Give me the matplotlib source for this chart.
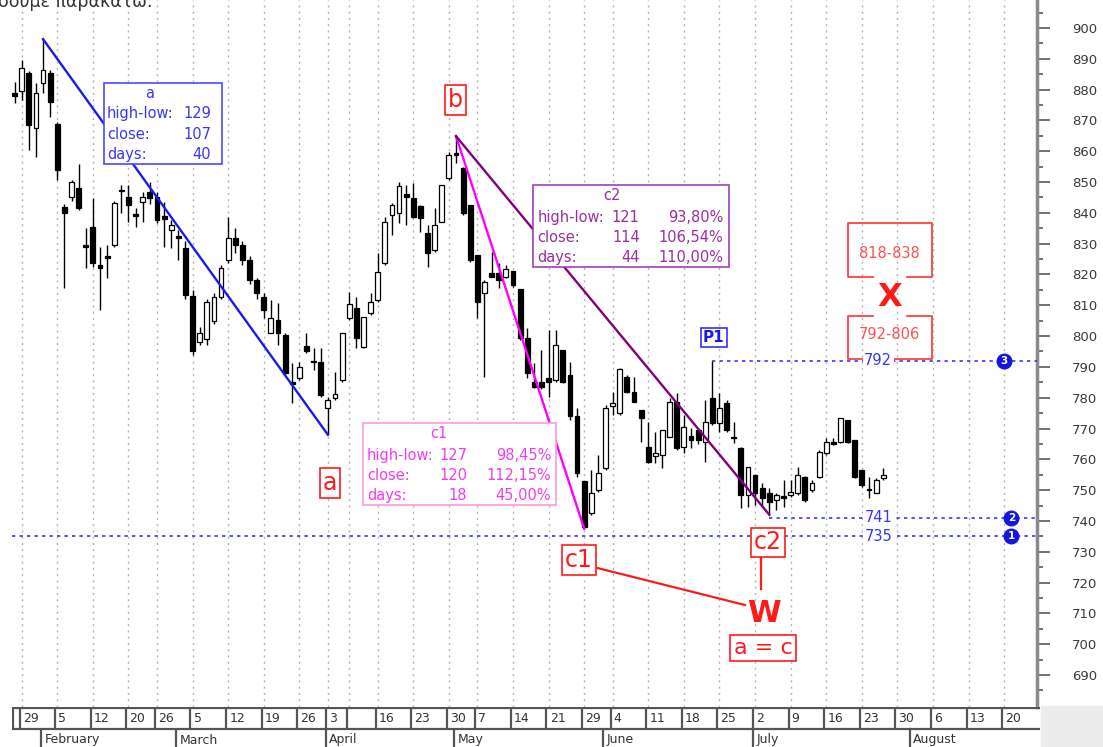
import matplotlib.pyplot as plt
from matplotlib.patches import Rectangle
import numpy as np

plt.rcParams['font.family'] = ['DejaVu Sans']

# daily candles, first one is the Friday before 29 Jan
opens = [879, 879.6, 885.4, 867.5, 882, 885.4, 869, 842, 845, 848,
         829.5, 835.4, 823, 826, 829.6, 847.5, 845, 839.5, 843.5, 846.8,
         845, 839, 834.4, 832.5, 828.6, 813, 798, 799, 805, 812.7,
         824.7, 831.8, 829.6, 824.7, 818.2, 812.7, 801, 805.2, 800.4, 784.9,
         786.3, 796.8, 791.9, 791.7, 776.5, 779.8, 785.7, 805.8, 809, 796.6,
         807.4, 811.7, 823.6, 839.3, 839.8, 846.1, 844.7, 842.2, 833.4, 828,
         837.1, 851.2, 859.5, 854.5, 842.5, 826.3, 813.9, 820.4, 820.4, 819.3,
         821.2, 815.2, 799.3, 785.2, 785.2, 786.3, 785.7, 795.5, 787.4, 773.9,
         752.8, 742.5, 750.1, 757.1, 777.3, 775, 786.8, 782, 776, 764.1,
         761.1, 761.4, 767.4, 778.7, 764.1, 767.6, 769.5, 765.7, 779.8, 771.7,
         778.2, 767.4, 763.6, 748.4, 754.9, 750.6, 749, 746.8, 747.9, 748.4,
         749, 754.4, 750.1, 754.4, 761.9, 765.4, 765.7, 772.8, 766.3, 756.5,
         750.3, 749, 753.8]
highs = [882.5, 889.6, 886, 882, 896.4, 886.4, 869.5, 843, 850.7, 856,
         835, 844.8, 829, 829.6, 844, 849, 849, 841.6, 846.8, 850,
         846.8, 843.5, 837.7, 834.4, 831, 815, 803, 812, 814, 823,
         838.7, 835, 831, 826, 819, 814, 811.7, 810.6, 800.9, 791.2,
         791.7, 800.9, 796, 796, 780.3, 788.5, 801.1, 814.4, 812.8, 806.3,
         813.9, 826.9, 838.8, 843.1, 850.1, 849, 849.6, 842.5, 836.1, 841.5,
         849, 859.9, 864.9, 855, 842.5, 826.3, 818.2, 827.4, 823.6, 823.1,
         821.2, 815.2, 802.5, 791.2, 795.5, 802, 802, 795.5, 791.7, 776.6,
         752.8, 756.6, 761.4, 777.6, 782, 789.5, 787.4, 786.8, 776, 772.2,
         769, 769.5, 779.8, 781.4, 774.4, 770.1, 770, 779.3, 792, 781.4,
         779.3, 772.2, 764.1, 757.6, 754.9, 752.2, 750.6, 749, 753.3, 753.3,
         757.6, 754.6, 753.3, 763, 766.8, 766.8, 773.3, 772.8, 766.3, 756.5,
         754.4, 753.8, 757.1]
lows = [875.7, 876.6, 860.4, 858.2, 879, 871, 850.7, 815.6, 844, 841,
        822, 822.4, 808.5, 818.9, 829, 840, 837, 835.4, 837, 843,
        836.7, 829, 828.6, 824.7, 812, 794, 797, 797, 804, 812,
        823.7, 827, 823, 817, 812, 806, 800.9, 797.1, 787.4, 778.2,
        785.7, 794.4, 789, 780.3, 768, 779.2, 785.2, 805.2, 796, 796,
        806.9, 811.2, 823.1, 832.8, 836.6, 836, 838.2, 833.9, 822.5, 827.4,
        837.1, 850.7, 856.1, 839.3, 824.2, 805.8, 786.8, 819.3, 815.5, 818.7,
        816, 798.7, 786.3, 783.1, 782.8, 780.3, 785.2, 784.7, 772.8, 754.4,
        737.5, 742, 749.5, 756.6, 774.4, 774.4, 781.4, 778.7, 765.7, 758.7,
        758.7, 757.1, 767.4, 763, 761.9, 763.6, 765, 759.2, 771, 769,
        769, 765.2, 744.1, 744.6, 745.2, 744.6, 742, 743.6, 744.6, 747.9,
        748.4, 746.2, 749.5, 753.8, 761.4, 764.6, 765.2, 765.2, 753.8, 751.1,
        747.3, 749, 753.3]
closes = [878, 887, 868.5, 878.9, 886.4, 876, 854, 840, 850, 841.6,
          829, 823.7, 822, 825.5, 843.2, 847, 842.5, 839, 845, 844.8,
          837.7, 838, 836, 832, 813.3, 795, 801, 811, 812.7, 822,
          831.8, 829.6, 824.7, 818.2, 814, 808.5, 805.8, 800.9, 787.9, 784.5,
          790.1, 795, 791.5, 780.9, 779.2, 781.1, 800.9, 810.4, 799.3, 806.3,
          811.2, 820.9, 837.1, 842.5, 848.7, 845.3, 838.8, 838.2, 826.9, 836.1,
          849, 858.8, 858.8, 839.8, 824.7, 811.2, 817.7, 819.3, 818.2, 821.7,
          816.6, 799.3, 787.9, 783.6, 783.5, 785.2, 797.1, 785.2, 773.9, 755.5,
          738.1, 749, 755.5, 776.6, 778.2, 789.2, 782, 778.7, 773.3, 759.2,
          762, 769.5, 778.7, 763.6, 770.6, 766.3, 766.3, 772.2, 771.7, 776.6,
          769.5, 766.8, 748.4, 757.6, 749, 747.3, 746.2, 748.4, 747.5, 749.5,
          754.9, 746.8, 752.2, 762.5, 765.7, 765, 773.3, 765.7, 754.4, 751.7,
          749.9, 753.3, 754.9]
days = np.arange(len(opens)) - 1

week_labels = ['29', '5', '12', '20', '26', '5', '12', '19', '26', '3', '', '16', '23', '30', '7',
               '14', '21', '29', '4', '11', '18', '25', '2', '9', '16', '23', '30', '6', '13', '20']
week_starts = [0, 5, 10, 15, 19, 24, 29, 34, 39, 43, 46, 50, 55, 60, 64,
               69, 74, 79, 83, 88, 93, 98, 103, 108, 113, 118, 123, 128, 133, 138]
month_labels = ['February', 'March', 'April', 'May', 'June', 'July', 'August']
month_starts = [3, 22, 43, 61, 82, 103, 125]

# wave points (day index)
a_top, a_bottom = 3, 43
b_top, c1_bottom, c2_bottom = 61, 79, 105
p1_day = 97

levels = [792, 741, 735]
level_nums = ['3', '2', '1']
level_from = [p1_day, c2_bottom, None]

a_rows = [('high-low:', '129'), ('close:', '107'), ('days:', '40')]
c1_rows = [('high-low:', '127', '98,45%'), ('close:', '120', '112,15%'), ('days:', '18', '45,00%')]
c2_rows = [('high-low:', '121', '93,80%'), ('close:', '114', '106,54%'), ('days:', '44', '110,00%')]
x_zone = '818-838'
p1_zone = '792-806'


def at(arr, d):
    return arr[d - days[0]]


W, H = 1103, 747
fig = plt.figure(figsize=(W / 100, H / 100), dpi=100)
ax = fig.add_axes([12 / W, 1 - 707 / H, (1037 - 12) / W, 707 / H])
x_min, x_max = -1.36, 142.6
ax.set_xlim(x_min, x_max)
ax.set_ylim(679.6, 909.1)

for s in week_starts:
    ax.axvline(s, color='#b4b4b4', lw=1, ls=(0, (1.5, 3)), zorder=0)

# candles
o = np.array(opens); c = np.array(closes)
up = c >= o
ax.vlines(days, lows, highs, color='black', lw=1, zorder=3)
body = np.maximum(np.abs(c - o), 0.5)
ax.bar(days, body, bottom=np.minimum(o, c), width=0.68,
       color=['white' if u else 'black' for u in up], edgecolor='black', lw=0.9, zorder=4)

# wave lines
ax.plot([a_top, a_bottom], [at(highs, a_top), at(lows, a_bottom)], color='#1a1af0', lw=1.7, zorder=5)
ax.plot([b_top, c1_bottom], [at(highs, b_top), at(lows, c1_bottom)], color='#ff00ff', lw=1.7, zorder=5)
ax.plot([b_top, c2_bottom], [at(highs, b_top), at(lows, c2_bottom)], color='#800080', lw=1.7, zorder=5)

# dotted levels
blue = '#3535ff'
for lv, num, start in zip(levels, level_nums, level_from):
    x0 = x_min if start is None else start
    ax.hlines(lv, x0, x_max, color=blue, lw=1.2, ls=(0, (2, 2.5)), zorder=5)
    ax.text(120.3, lv, str(lv), color=blue, fontsize=10.5, ha='center', va='center', zorder=7,
            bbox=dict(fc='white', ec='none', pad=1))
    cx = 137.9 if num == '3' else 139
    ax.scatter([cx], [lv], s=110, color='#1515e0', zorder=8)
    ax.text(cx, lv, num, color='white', fontsize=7.5, fontweight='bold', ha='center', va='center', zorder=9)


def stat_box(x0, x1, ytop, ybot, title, tx, rows, ys, cols, color, edge):
    ax.add_patch(Rectangle((x0, ybot), x1 - x0, ytop - ybot, fc='white', ec=edge, lw=1.2, zorder=6))
    ax.text(tx, ytop - (ytop - ybot) * 0.125, title, color=color, fontsize=10.5, ha='center', va='center', zorder=7)
    for row, y in zip(rows, ys):
        ax.text(cols[0], y, row[0], color=color, fontsize=10.5, ha='left', va='center', zorder=7)
        for val, cx in zip(row[1:], cols[1:]):
            ax.text(cx, y, val, color=color, fontsize=10.5, ha='right', va='center', zorder=7)


stat_box(11.6, 28.1, 882.2, 855.8, 'a', 17.9, a_rows, [872.1, 865.5, 859.1], [12.0, 26.6], '#3838f0', '#4a4aff')
stat_box(71.8, 99.3, 849.0, 822.5, 'c2', 82.9, c2_rows, [838.4, 831.9, 825.4], [72.4, 86.8, 98.5], '#9a2ea0', '#a040b0')
stat_box(47.9, 75.1, 771.7, 745.2, 'c1', 58.6, c1_rows, [761.2, 754.7, 748.1], [48.5, 62.6, 74.4], '#f03cf0', '#ff9ad8')

# red wave labels
red = '#ff1a1a'
rbox = dict(fc='white', ec=red, lw=1.2, boxstyle='square,pad=0.12')
for x, y, t in [(43.3, 752.3, 'a'), (60.9, 876.6, 'b'), (78.3, 727.3, 'c1'), (104.8, 733.0, 'c2')]:
    ax.text(x, y, t, color=red, fontsize=17, ha='center', va='center', zorder=7, bbox=rbox)
ax.plot([80.9, 101.6], [724.7, 712.7], color=red, lw=1.6, zorder=6)
ax.plot([103.8, 103.8], [728.3, 717.9], color=red, lw=1.6, zorder=6)
ax.text(104.2, 710.0, 'W', color=red, fontsize=22, fontweight='bold', ha='center', va='center', zorder=7)
ax.text(104.1, 698.8, 'a = c', color=red, fontsize=16, ha='center', va='center', zorder=7,
        bbox=dict(fc='white', ec=red, lw=1.2, boxstyle='square,pad=0.15'))
ax.text(97.2, 799.5, 'P1', color='#1a1ae6', fontsize=11, fontweight='bold', ha='center', va='center', zorder=7,
        bbox=dict(fc='white', ec='#3030ff', lw=1.2, boxstyle='square,pad=0.15'))

# X target brackets
xr = '#ff3030'
ax.plot([119.6, 116.0, 116.0, 127.8, 127.8, 124.4], [819.3, 819.3, 836.8, 836.8, 819.3, 819.3], color=xr, lw=1.2, zorder=6)
ax.plot([119.6, 116.0, 116.0, 118.0], [806.5, 806.5, 792.5, 792.5], color=xr, lw=1.2, zorder=6)
ax.plot([124.4, 127.8, 127.8, 122.5], [806.5, 806.5, 792.5, 792.5], color=xr, lw=1.2, zorder=6)
ax.text(121.9, 826.9, x_zone, color='#ff5050', fontsize=10.5, ha='center', va='center', zorder=7)
ax.text(121.9, 800.4, p1_zone, color='#ff5050', fontsize=10.5, ha='center', va='center', zorder=7)
ax.text(121.9, 812.4, 'X', color=red, fontsize=23, fontweight='bold', ha='center', va='center', zorder=7)

# right price axis
for side in ['left', 'top', 'bottom']:
    ax.spines[side].set_visible(False)
ax.spines['right'].set_color('#8a8a8a')
ax.spines['right'].set_linewidth(2.5)
ax.set_xticks([])
ax.yaxis.tick_right()
ax.set_yticks(np.arange(690, 901, 10))
ax.set_yticks(np.arange(685, 906, 10), minor=True)
ax.tick_params(axis='y', which='major', length=9, width=1.3, color='#666666', pad=16,
               labelsize=9.5, labelcolor='#3a3a3a')
ax.tick_params(axis='y', which='minor', length=4, width=1.3, color='#666666')

# date strip
ax2 = fig.add_axes([12 / W, 0, (1040 - 12) / W, 40 / H])
ax2.set_xlim(x_min, x_min + (x_max - x_min) * (1040 - 12) / (1037 - 12))
ax2.set_ylim(0, 40)
ax2.axis('off')
sc = '#555555'
ax2.hlines([39.5, 18.5], x_min, ax2.get_xlim()[1], color=sc, lw=1.6)
ax2.vlines([x_min + 0.1], 18.5, 39.5, color=sc, lw=1.6)
for s, lab in zip(week_starts, week_labels):
    ax2.vlines(s - 0.3, 18.5, 39.5, color=sc, lw=1.6)
    ax2.text(s + 0.15, 28.5, lab, fontsize=9, color='#333333', ha='left', va='center')
for s, lab in zip(month_starts, month_labels):
    ax2.vlines(s - 0.3, 0, 18.5, color=sc, lw=1.6)
    ax2.text(s + 0.2, 7, lab, fontsize=9, color='#333333', ha='left', va='center')

fig.patches.append(Rectangle((1041 / W, 0), 62 / W, 41 / H, transform=fig.transFigure,
                             color='#ececec', zorder=0))
# sentence of the page above the chart, cut by the screenshot edge
fig.text(-0.002, 1 - 7 / H, 'δούμε παρακάτω:', fontsize=12.5, color='#333333', va='baseline')

fig.savefig('out.png', dpi=100)
